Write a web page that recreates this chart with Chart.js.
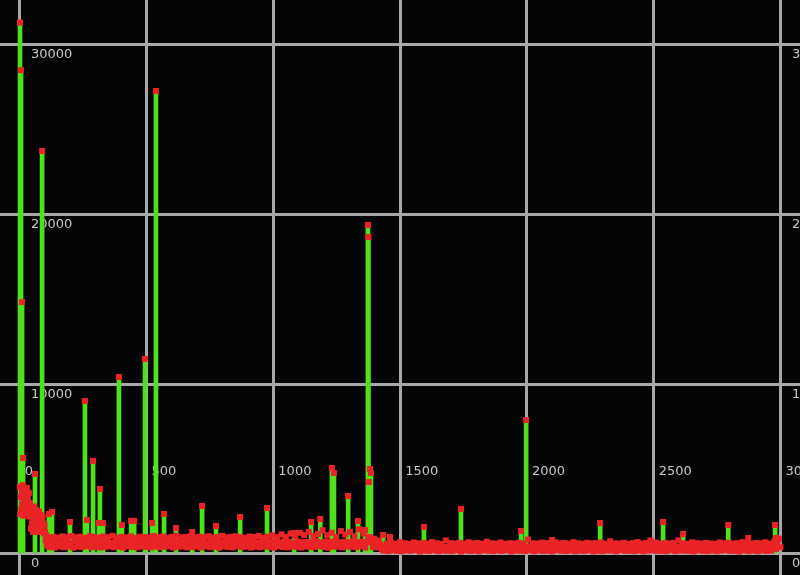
<!DOCTYPE html>
<html><head><meta charset="utf-8">
<script src="https://cdn.jsdelivr.net/npm/chart.js@4/dist/chart.umd.min.js"></script>
<style>
html,body{margin:0;padding:0;background:#050508;overflow:hidden;}
#wrap{width:800px;height:575px;position:relative;}
</style>
</head><body><div id="wrap"><canvas id="c"></canvas></div>
<script>
// tick labels
const xTicks = [0, 500, 1000, 1500, 2000, 2500, 3000];
const yTicks = [0, 10000, 20000, 30000];

// peaks drawn with a stem (x, value)
const spikeX = [1, 5, 9, 13, 60, 88, 115, 127, 198, 257, 265, 289, 312, 316, 328, 391, 403, 439, 451, 494, 522, 537, 569, 616, 680, 719, 774, 869, 975, 1082, 1149, 1185, 1231, 1239, 1295, 1334, 1362, 1373, 1375, 1377, 1381, 1385, 1433, 1460, 1594, 1740, 1977, 1997, 2099, 2289, 2487, 2537, 2616, 2794, 2873, 2979, 2983];
const spikeY = [31300, 28500, 14840, 5655, 4712, 23740, 2356, 2474, 1885, 9012, 2003, 5478, 1826, 3829, 1826, 10426, 1708, 1950, 1950, 11486, 1826, 27272, 2356, 1531, 1296, 2827, 1649, 2179, 2710, 1237, 1885, 2062, 5066, 4771, 3416, 1944, 1414, 19380, 18673, 4241, 5007, 4771, 1119, 1000, 1590, 2650, 1355, 7893, 825, 1826, 800, 1885, 1178, 1708, 942, 1708, 942];

// dense start of the series, every 2 from x = 0
const headStart = 0, headStep = 2;
const headY = [
 3950, 2350, 3350, 2650, 3650, 2950, 4050, 2250, 3200, 2800, 3800, 2500, 3450, 3050, 3900, 2400, 3300, 2700, 3600, 2200, 3000,
 2700, 1500, 2300, 1800, 2500, 1300, 2000, 2800, 1600, 2200, 1400, 2600, 1900, 2400, 1300, 2100, 1700, 2500, 1400, 2000, 2300, 1600, 1900, 1300, 2200, 1500, 1800, 1200, 1700,
 1300, 800, 1100, 600, 1000, 500, 900, 450, 800, 400];

// background band, every 6 from x = 120 to 3000
const bandStart = 120, bandStep = 6;
const bandY = [
 420,700,1000, 380,730,960, 450,680,1040, 400,720,990, 440,660,1060,
 370,740,980, 430,690,1020, 410,710,950, 460,670,1050, 390,750,1000,
 440,700,970, 380,680,1030, 420,760,990, 450,650,1070, 400,720,960,
 430,690,1010, 370,740,980, 460,710,1040, 410,660,950, 390,730,1020,
 450,680,1000, 420,750,970, 380,700,1060, 440,670,990, 400,720,1030,
 430,740,960, 460,690,1010, 370,710,1080, 420,660,980, 450,730,1000,
 390,700,1040, 410,750,970, 440,680,1020, 380,720,990, 460,670,1050,
 400,740,960, 430,700,1000, 370,690,1070, 450,730,980, 420,660,1010,
 390,710,1050, 460,750,990, 410,680,960, 440,720,1030, 380,700,1000,
 430,670,1060, 400,740,970, 450,690,1020, 420,730,1100, 370,700,990,
 460,680,1150, 410,750,1000, 390,710,1200, 440,660,1050, 430,740,1250,
 380,700,1120, 450,720,1300, 400,690,1050, 420,760,1180, 460,680,1400,
 410,730,1100, 370,700,1250, 440,750,1000, 430,680,1350, 390,720,1150,
 450,710,1300, 420,740,1050, 400,690,1450, 460,730,1200, 380,700,1000,
 1000,700,420, 900,620,380, 800,550,300,
 200,420,620, 170,450,660, 220,400,600, 180,440,700, 160,410,640,
 210,460,590, 190,390,680, 230,430,620, 150,470,650, 200,410,610,
 180,440,700, 220,400,630, 160,450,590, 200,420,800, 190,380,640,
 170,460,610, 230,410,660, 150,430,600, 210,450,690, 180,390,620,
 200,440,650, 160,420,600, 220,470,720, 190,400,630, 170,440,610,
 210,410,680, 180,450,590, 230,390,640, 150,430,620, 200,460,660,
 190,420,600, 170,440,850, 220,400,630, 160,460,610, 210,410,670,
 180,450,640, 200,390,600, 150,430,690, 230,420,620, 190,460,650,
 170,400,610, 210,440,700, 160,420,630, 200,450,600, 180,410,660,
 220,430,620, 150,470,640, 190,400,680, 170,440,600, 210,420,750,
 200,460,630, 160,390,610, 230,450,660, 180,420,590, 190,440,640,
 170,410,700, 210,430,620, 150,460,650, 200,400,610, 220,440,680,
 180,420,600, 190,450,640, 160,390,620, 230,430,660, 170,410,800,
 210,460,630, 200,420,600, 180,440,690, 150,400,640, 220,450,610,
 190,430,650, 170,410,620, 210,470,600, 160,440,680, 200,390,630,
 230,420,660, 180,460,610, 190,400,640, 150,430,700, 220,440,620,
 170,450,600, 200,410,650, 160,430,630, 210,460,690, 180,420,610,
 200,500,750, 300,650,900, 400
];

const marks = [];
headY.forEach((v, i) => marks.push({x: headStart + i * headStep, y: v}));
bandY.forEach((v, i) => marks.push({x: bandStart + i * bandStep, y: v}));
const peaks = spikeX.map((x, i) => ({x: x, y: spikeY[i]}));
peaks.forEach(p => marks.push(p));
marks.sort((a, b) => a.x - b.x);

const GRID = '#a8a8a8', TXT = '#c8c8c8', GREEN = '#4fe11c', RED = '#ea2426';
const FONT = {family: 'DejaVu Sans', size: 13};
const zeroFitY = s => { s.width = 0; s.paddingLeft = s.paddingRight = s.paddingTop = s.paddingBottom = 0; };
const zeroFitX = s => { s.height = 0; s.paddingLeft = s.paddingRight = s.paddingTop = s.paddingBottom = 0; };
const YMIN = -1237, YMAX = 32633;

new Chart(document.getElementById('c'), {
  type: 'scatter',
  data: {
    datasets: [
      {type: 'scatter', data: marks, pointStyle: 'rect', pointRadius: 4.25, pointHoverRadius: 4.25,
       pointBackgroundColor: RED, pointBorderWidth: 0, order: 0},
      {type: 'bar', data: peaks, backgroundColor: GREEN, borderWidth: 0, barThickness: 4, grouped: false, order: 1}
    ]
  },
  options: {
    responsive: true, maintainAspectRatio: false, animation: false,
    layout: {padding: 0, autoPadding: false},
    plugins: {legend: {display: false}, tooltip: {enabled: false}},
    events: [],
    scales: {
      x: {
        type: 'linear', position: 'bottom', min: -78, max: 3077, offset: false,
        afterBuildTicks: s => { s.ticks = xTicks.map(v => ({value: v})); },
        afterFit: zeroFitX,
        grid: {color: GRID, lineWidth: 3, drawTicks: false, offset: false},
        border: {display: false},
        ticks: {mirror: true, padding: 96, align: 'start', labelOffset: 5, color: TXT, font: FONT,
                maxRotation: 0, minRotation: 0, autoSkip: false, callback: v => String(v)}
      },
      y: {
        type: 'linear', position: 'left', min: YMIN, max: YMAX,
        afterBuildTicks: s => { s.ticks = yTicks.map(v => ({value: v})); },
        afterFit: zeroFitY,
        grid: {color: GRID, lineWidth: 3, drawTicks: false, offset: false},
        border: {display: false},
        ticks: {mirror: true, padding: 31, labelOffset: 10, color: TXT, font: FONT, callback: v => String(v)}
      },
      y2: {
        type: 'linear', position: 'left', min: YMIN, max: YMAX,
        afterBuildTicks: s => { s.ticks = yTicks.map(v => ({value: v})); },
        afterFit: zeroFitY,
        grid: {display: false, drawTicks: false},
        border: {display: false},
        ticks: {mirror: true, padding: 792, labelOffset: 10, color: TXT, font: FONT, callback: v => String(v)}
      }
    }
  }
});
</script>
</body></html>
